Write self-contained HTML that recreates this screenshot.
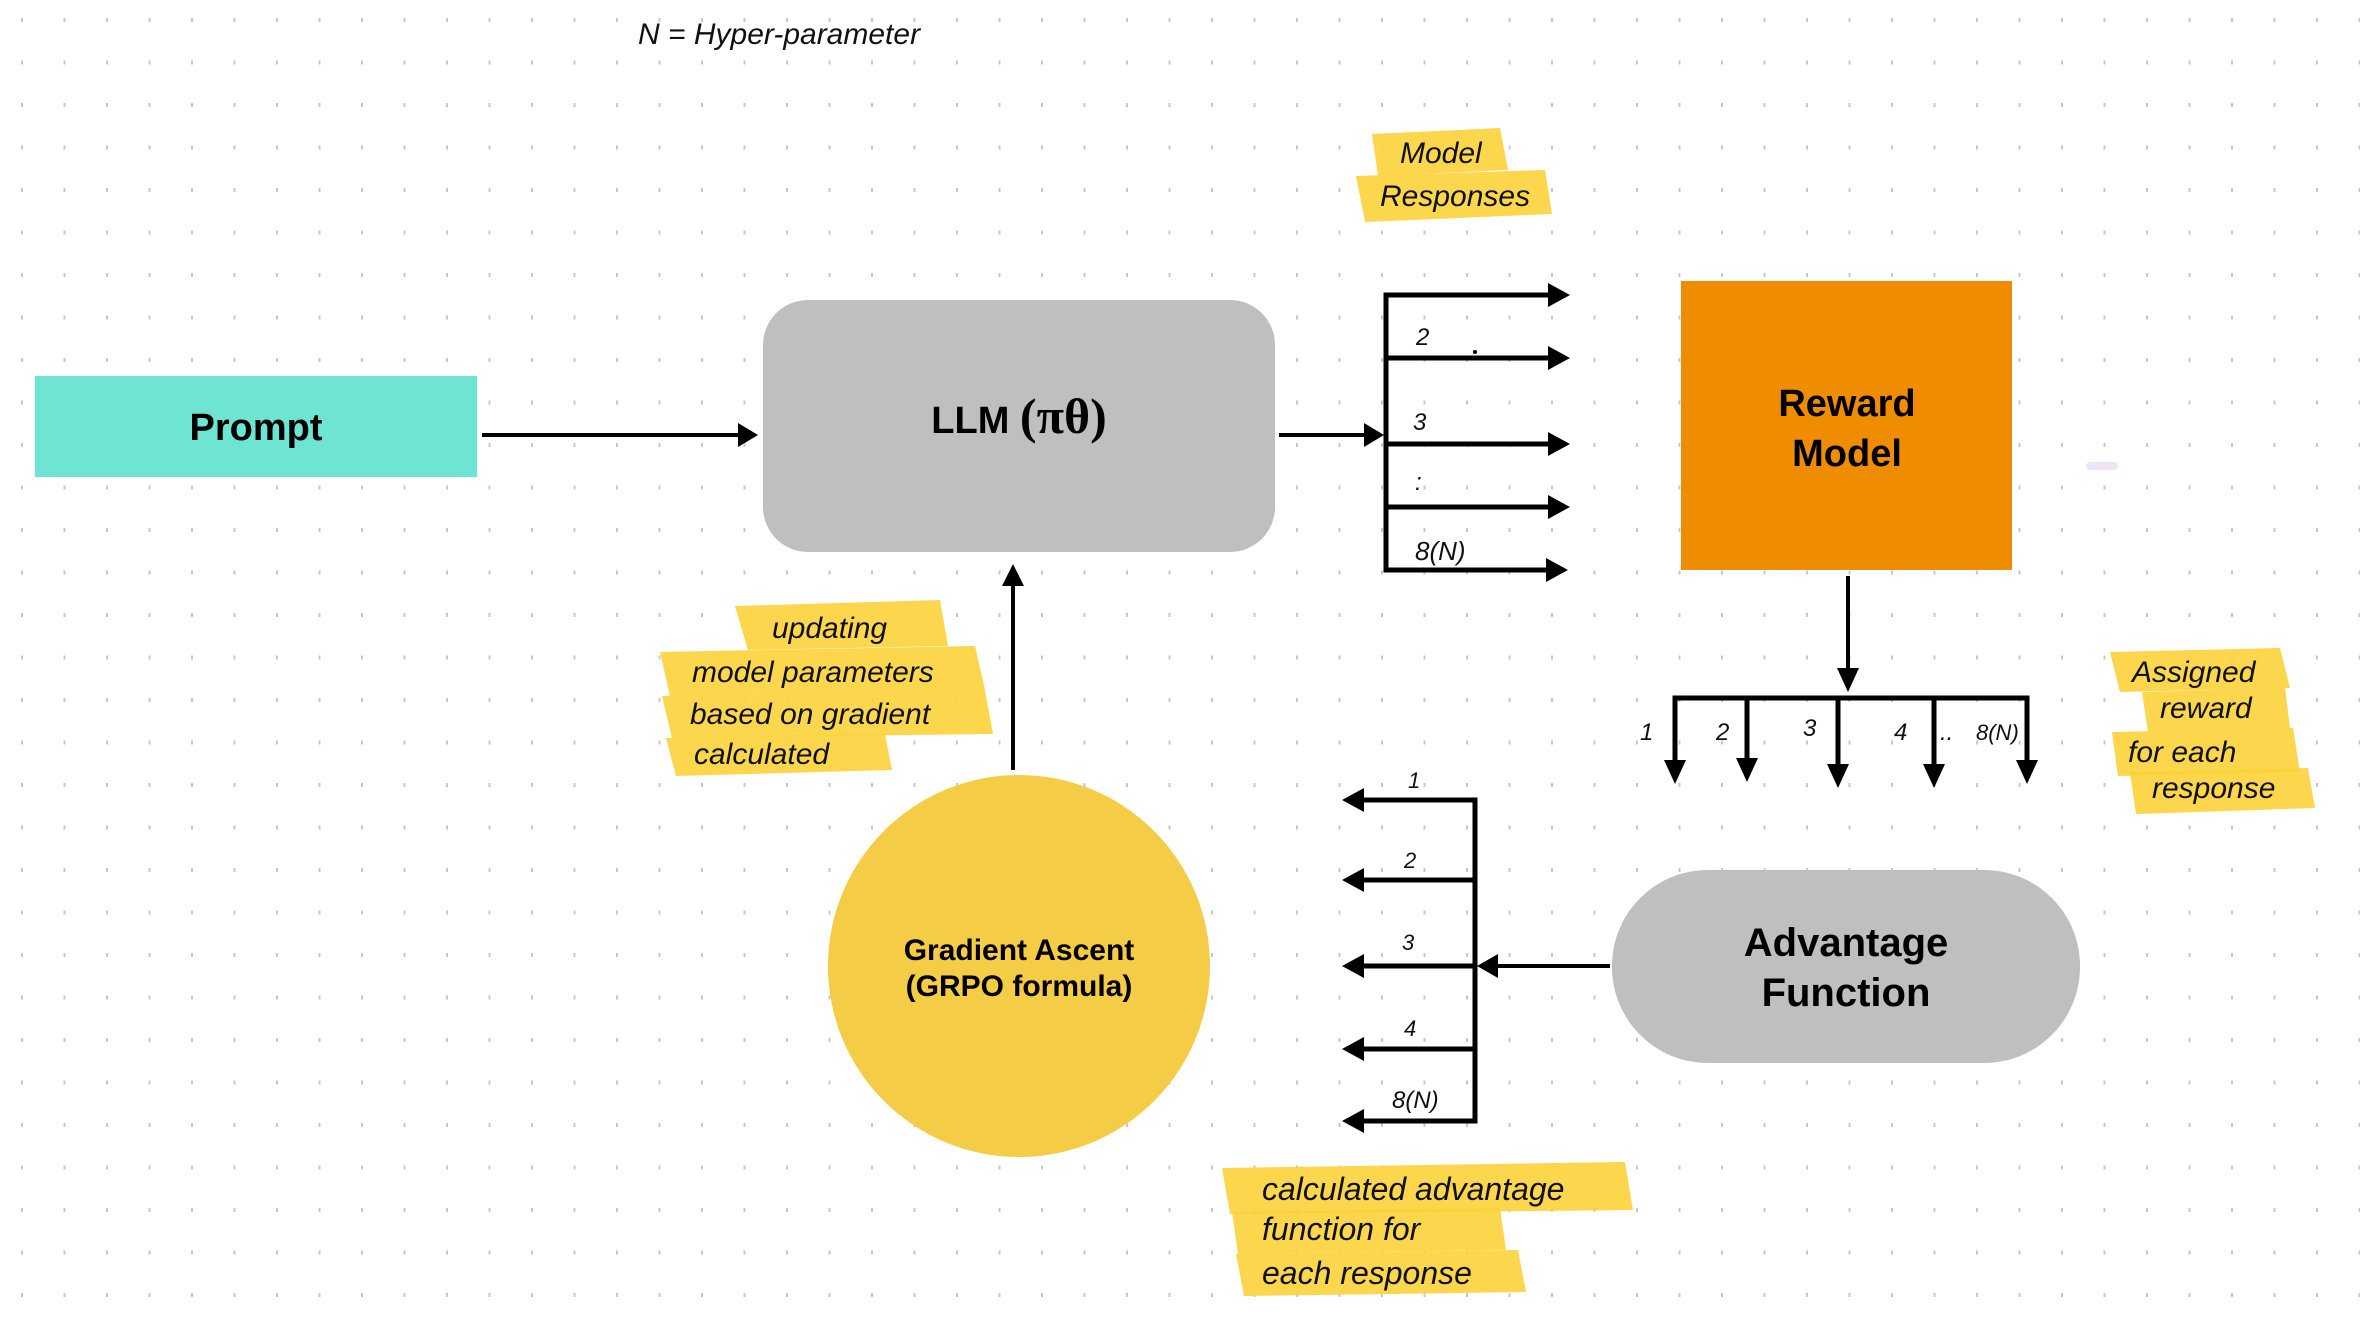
<!DOCTYPE html>
<html><head><meta charset="utf-8"><style>
html,body{margin:0;padding:0;background:#fff}
svg{display:block}
.h{font-family:"Liberation Sans",sans-serif;font-style:italic;fill:#111}
.b{font-family:"Liberation Sans",sans-serif;font-weight:bold;fill:#000}
</style></head><body>
<svg width="2360" height="1330" viewBox="0 0 2360 1330" xmlns="http://www.w3.org/2000/svg">
<defs>
<pattern id="dots" x="21" y="18" width="42.5" height="42.5" patternUnits="userSpaceOnUse">
<rect x="0" y="0" width="2" height="4" fill="#c8c8c8"/>
</pattern>
<marker id="ar" viewBox="0 0 10 10" refX="9" refY="5" markerWidth="6" markerHeight="6" markerUnits="userSpaceOnUse" orient="auto">
</marker>
</defs>
<rect width="2360" height="1330" fill="url(#dots)"/>

<!-- Prompt -->
<rect x="35" y="376" width="442" height="101" fill="#6ee5d2"/>
<text x="256" y="440" class="b" font-size="38" text-anchor="middle">Prompt</text>
<line x1="482" y1="435" x2="740" y2="435" stroke="#000" stroke-width="4"/>
<polygon points="758,435 738,423 738,447" fill="#000"/>

<!-- LLM -->
<rect x="763" y="300" width="512" height="252" rx="45" fill="#bfbfbf"/>
<text x="1019" y="433" class="b" font-size="38" text-anchor="middle">LLM <tspan font-family="Liberation Serif" font-weight="bold" font-size="50">(πθ)</tspan></text>

<!-- LLM to bracket -->
<line x1="1279" y1="435" x2="1368" y2="435" stroke="#000" stroke-width="4"/>
<polygon points="1384,435 1364,423 1364,447" fill="#000"/>
<g stroke="#000" stroke-width="5" fill="none">
<polyline points="1550,295 1386,295 1386,570 1550,570"/>
<line x1="1386" y1="358" x2="1550" y2="358"/>
<line x1="1386" y1="444" x2="1550" y2="444"/>
<line x1="1386" y1="507" x2="1550" y2="507"/>
</g>
<g fill="#000">
<polygon points="1570,295 1548,283 1548,307"/>
<polygon points="1570,358 1548,346 1548,370"/>
<polygon points="1570,444 1548,432 1548,456"/>
<polygon points="1570,507 1548,495 1548,519"/>
<polygon points="1568,570 1546,558 1546,582"/>
</g>
<text x="1416" y="345" class="h" font-size="24">2</text>
<circle cx="1475" cy="352" r="2" fill="#000"/>
<text x="1413" y="430" class="h" font-size="24">3</text>
<text x="1415" y="490" class="h" font-size="24">:</text>
<text x="1415" y="560" class="h" font-size="26">8(N)</text>

<!-- Model Responses note -->
<polygon points="1372,134 1500,128 1508,170 1378,176" fill="#fcd23a" opacity="0.9"/>
<polygon points="1356,176 1545,170 1552,214 1365,222" fill="#fcd23a" opacity="0.9"/>
<text x="1400" y="163" class="h" font-size="30">Model</text>
<text x="1380" y="206" class="h" font-size="30">Responses</text>

<!-- Reward Model -->
<rect x="1681" y="281" width="331" height="289" fill="#ef8c00"/>
<text x="1847" y="416" class="b" font-size="38" text-anchor="middle">Reward</text>
<text x="1847" y="466" class="b" font-size="38" text-anchor="middle">Model</text>
<rect x="2086" y="462" width="32" height="8" rx="4" fill="#eee4f6"/>

<line x1="1848" y1="576" x2="1848" y2="672" stroke="#000" stroke-width="4"/>
<polygon points="1848,692 1837,668 1859,668" fill="#000"/>
<g stroke="#000" stroke-width="5" fill="none">
<polyline points="1675,765 1675,698 2027,698 2027,765"/>
<line x1="1747" y1="698" x2="1747" y2="765"/>
<line x1="1838" y1="698" x2="1838" y2="770"/>
<line x1="1934" y1="698" x2="1934" y2="770"/>
</g>
<g fill="#000">
<polygon points="1675,784 1664,760 1686,760"/>
<polygon points="1747,782 1736,758 1758,758"/>
<polygon points="1838,788 1827,764 1849,764"/>
<polygon points="1934,788 1923,764 1945,764"/>
<polygon points="2027,784 2016,760 2038,760"/>
</g>
<text x="1640" y="740" class="h" font-size="24">1</text>
<text x="1716" y="740" class="h" font-size="24">2</text>
<text x="1803" y="736" class="h" font-size="24">3</text>
<text x="1894" y="740" class="h" font-size="24">4</text>
<text x="1940" y="740" class="h" font-size="24">..</text>
<text x="1976" y="740" class="h" font-size="22">8(N)</text>

<!-- Assigned reward note -->
<polygon points="2110,652 2280,648 2290,688 2120,692" fill="#fcd23a" opacity="0.9"/>
<polygon points="2142,692 2285,688 2290,728 2148,732" fill="#fcd23a" opacity="0.9"/>
<polygon points="2112,732 2293,728 2300,772 2118,776" fill="#fcd23a" opacity="0.9"/>
<polygon points="2130,772 2308,768 2315,808 2136,814" fill="#fcd23a" opacity="0.9"/>
<text x="2132" y="682" class="h" font-size="30">Assigned</text>
<text x="2160" y="718" class="h" font-size="30">reward</text>
<text x="2128" y="762" class="h" font-size="30">for  each</text>
<text x="2152" y="798" class="h" font-size="30">response</text>

<!-- Advantage Function -->
<rect x="1612" y="870" width="468" height="193" rx="96" fill="#bfbfbf"/>
<text x="1846" y="956" class="b" font-size="40" text-anchor="middle">Advantage</text>
<text x="1846" y="1006" class="b" font-size="40" text-anchor="middle">Function</text>

<line x1="1610" y1="966" x2="1495" y2="966" stroke="#000" stroke-width="4"/>
<polygon points="1477,966 1498,954 1498,978" fill="#000"/>
<g stroke="#000" stroke-width="5" fill="none">
<polyline points="1362,800 1475,800 1475,1121 1362,1121"/>
<line x1="1362" y1="880" x2="1475" y2="880"/>
<line x1="1362" y1="966" x2="1475" y2="966"/>
<line x1="1362" y1="1049" x2="1475" y2="1049"/>
</g>
<g fill="#000">
<polygon points="1342,800 1364,788 1364,812"/>
<polygon points="1342,880 1364,868 1364,892"/>
<polygon points="1342,966 1364,954 1364,978"/>
<polygon points="1342,1049 1364,1037 1364,1061"/>
<polygon points="1342,1121 1364,1109 1364,1133"/>
</g>
<text x="1408" y="788" class="h" font-size="22">1</text>
<text x="1404" y="868" class="h" font-size="22">2</text>
<text x="1402" y="950" class="h" font-size="22">3</text>
<text x="1404" y="1036" class="h" font-size="22">4</text>
<text x="1392" y="1108" class="h" font-size="24">8(N)</text>

<!-- Gradient Ascent -->
<circle cx="1019" cy="966" r="191" fill="#f4cc45"/>
<text x="1019" y="960" class="b" font-size="30" text-anchor="middle">Gradient Ascent</text>
<text x="1019" y="996" class="b" font-size="30" text-anchor="middle">(GRPO formula)</text>
<line x1="1013" y1="770" x2="1013" y2="582" stroke="#000" stroke-width="4"/>
<polygon points="1013,564 1002,586 1024,586" fill="#000"/>

<!-- updating note -->
<polygon points="735,606 940,600 948,646 748,650" fill="#fcd23a" opacity="0.9"/>
<polygon points="660,652 975,646 985,690 670,696" fill="#fcd23a" opacity="0.9"/>
<polygon points="662,696 985,690 993,734 672,738" fill="#fcd23a" opacity="0.9"/>
<polygon points="666,738 885,734 892,770 676,776" fill="#fcd23a" opacity="0.9"/>
<text x="772" y="638" class="h" font-size="30">updating</text>
<text x="692" y="682" class="h" font-size="30">model  parameters</text>
<text x="690" y="724" class="h" font-size="30">based  on  gradient</text>
<text x="694" y="764" class="h" font-size="30">calculated</text>

<!-- calculated advantage note -->
<polygon points="1222,1168 1625,1162 1633,1210 1230,1214" fill="#fcd23a" opacity="0.9"/>
<polygon points="1232,1212 1500,1208 1506,1250 1238,1254" fill="#fcd23a" opacity="0.9"/>
<polygon points="1236,1254 1518,1250 1526,1292 1244,1296" fill="#fcd23a" opacity="0.9"/>
<text x="1262" y="1200" class="h" font-size="32">calculated  advantage</text>
<text x="1262" y="1240" class="h" font-size="32">function  for</text>
<text x="1262" y="1284" class="h" font-size="32">each  response</text>

<!-- N = Hyper-parameter -->
<text x="638" y="44" class="h" font-size="30">N =  Hyper-parameter</text>
</svg>
</body></html>
